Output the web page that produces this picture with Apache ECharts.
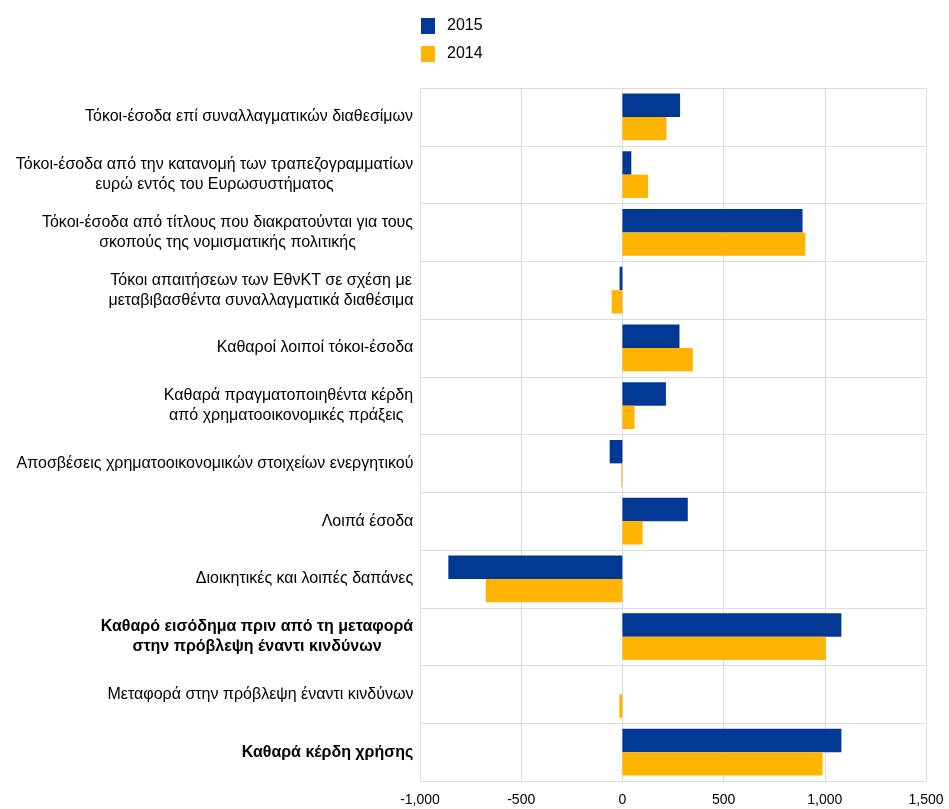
<!DOCTYPE html>
<html>
<head>
<meta charset="utf-8">
<script src="https://cdn.jsdelivr.net/npm/echarts@6/dist/echarts.min.js"></script>
<style>
html,body{margin:0;padding:0;background:#fff;}
#chart{width:949px;height:809px;}
</style>
</head>
<body>
<div id="chart"></div>
<script>
var categories = [
  "Τόκοι-έσοδα επί συναλλαγματικών διαθεσίμων",
  "Τόκοι-έσοδα από την κατανομή των τραπεζογραμματίων\nευρώ εντός του Ευρωσυστήματος",
  "Τόκοι-έσοδα από τίτλους που διακρατούνται για τους\nσκοπούς της νομισματικής πολιτικής",
  "Τόκοι απαιτήσεων των ΕθνΚΤ σε σχέση με\nμεταβιβασθέντα συναλλαγματικά διαθέσιμα",
  "Καθαροί λοιποί τόκοι-έσοδα",
  "Καθαρά πραγματοποιηθέντα κέρδη\nαπό χρηματοοικονομικές πράξεις ",
  "Αποσβέσεις χρηματοοικονομικών στοιχείων ενεργητικού",
  "Λοιπά έσοδα",
  "Διοικητικές και λοιπές δαπάνες",
  "Καθαρό εισόδημα πριν από τη μεταφορά\nστην πρόβλεψη έναντι κινδύνων",
  "Μεταφορά στην πρόβλεψη έναντι κινδύνων",
  "Καθαρά κέρδη χρήσης"
];
var boldCategories = [9, 11];
var seriesNames = ["2015", "2014"];
var values2015 = [285, 44, 890, -14, 282, 215, -63, 323, -860, 1082, 0, 1082];
var values2014 = [218, 127, 904, -53, 348, 60, -5, 100, -675, 1005, -15, 989];
var xTicks = { min: -1000, max: 1500, interval: 500 };

var fontFamily = '"Liberation Sans", Arial, sans-serif';
var labelSize = 16;
var chart = echarts.init(document.getElementById('chart'), null, {renderer: 'canvas'});

// measure label lines so that multi-line labels are centred within their right-aligned block
var ctx = document.createElement('canvas').getContext('2d');
var rich = {};
categories.forEach(function (c, i) {
  var bold = boldCategories.indexOf(i) >= 0;
  ctx.font = (bold ? 'bold ' : '') + labelSize + 'px ' + fontFamily;
  var w = 0;
  c.split('\n').forEach(function (line) { w = Math.max(w, ctx.measureText(line).width); });
  rich['l' + i] = {
    width: Math.ceil(w) + 1,
    align: 'center',
    fontSize: labelSize,
    lineHeight: 20,
    fontWeight: bold ? 'bold' : 'normal',
    fontFamily: fontFamily,
    color: '#000'
  };
});

function fmt(v) {
  var s = Math.abs(v).toString().replace(/\B(?=(\d{3})+(?!\d))/g, ',');
  return (v < 0 ? '-' : '') + s;
}

chart.setOption({
  animation: false,
  backgroundColor: '#fff',
  textStyle: { fontFamily: fontFamily },
  color: ['#003894', '#FFB400'],
  legend: {
    orient: 'vertical',
    left: 421,
    top: 18,
    padding: 0,
    itemWidth: 14,
    itemHeight: 16,
    itemGap: 12,
    icon: 'rect',
    itemStyle: { borderWidth: 0 },
    textStyle: { fontSize: 16, color: '#000', fontFamily: fontFamily, padding: [0, 0, 0, 7] },
    data: seriesNames
  },
  grid: { left: 420, right: 23, top: 88, bottom: 28, containLabel: false },
  xAxis: {
    type: 'value',
    min: xTicks.min,
    max: xTicks.max,
    interval: xTicks.interval,
    axisLine: { show: false },
    axisTick: { show: false },
    axisLabel: { fontSize: 14, color: '#000', fontFamily: fontFamily, margin: 12, formatter: fmt },
    splitLine: { show: true, lineStyle: { color: '#dcdcdc', width: 1 } }
  },
  yAxis: {
    type: 'category',
    inverse: true,
    data: categories,
    axisLine: { show: false },
    axisTick: { show: false },
    axisLabel: {
      fontSize: labelSize, color: '#000', fontFamily: fontFamily, margin: 6, lineHeight: 20,
      align: 'right', interval: 0,
      formatter: function (value, index) {
        return value.split('\n').map(function (line) { return '{l' + index + '|' + line + '}'; }).join('\n');
      },
      rich: rich
    },
    splitLine: { show: true, interval: 0, lineStyle: { color: '#dcdcdc', width: 1 } }
  },
  series: [
    {
      name: seriesNames[0], type: 'bar', data: values2015,
      barGap: '0%', barCategoryGap: '19%',
      itemStyle: { color: '#003894' }
    },
    {
      name: seriesNames[1], type: 'bar', data: values2014,
      barGap: '0%', barCategoryGap: '19%',
      itemStyle: { color: '#FFB400' }
    }
  ]
});
</script>
</body>
</html>
